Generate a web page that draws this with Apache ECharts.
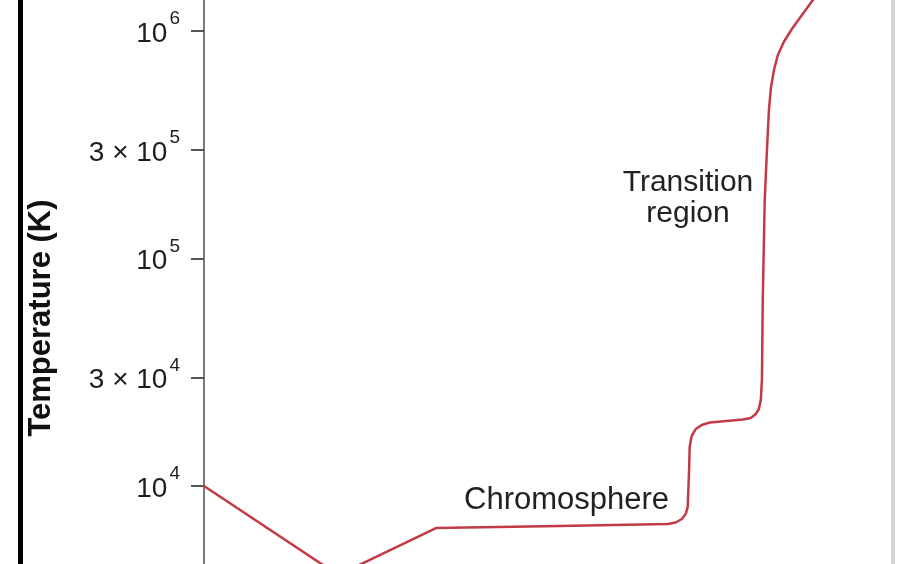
<!DOCTYPE html>
<html>
<head>
<meta charset="utf-8">
<script src="https://cdn.jsdelivr.net/npm/echarts@6/dist/echarts.min.js"></script>
<style>
html,body{margin:0;padding:0;background:#fff;}
#chart{width:919px;height:564px;}
</style>
</head>
<body>
<div id="chart"></div>
<script>
// Height above the photosphere (km, hidden axis) and temperature (K)
const heightKm = [0, 479, 830, 1269, 1656, 1684, 1706, 1720, 1727, 1732, 1734, 1741, 1756, 1777, 1806, 1924, 1952, 1970, 1981, 1988, 1992, 1995, 2002, 2010, 2017, 2024, 2035, 2049, 2070, 2099, 2135, 2174, 2220, 2270];
const temperatureK = [10000, 4060, 6540, 6670, 6810, 6910, 7160, 7530, 8090, 11760, 14840, 16590, 17810, 18540, 19020, 19600, 19900, 20730, 21800, 23880, 29240, 65700, 180700, 299900, 449600, 561700, 673900, 784600, 894700, 1020400, 1175800, 1368600, 1561000, 1745000];

// Y axis ticks and their labels
const tickValues = [10000, 30000, 100000, 300000, 1000000];
const tickLabels = ['{m|10}{s|4}', '{m|3 × 10}{s|4}', '{m|10}{s|5}', '{m|3 × 10}{s|5}', '{m|10}{s|6}'];

const annotations = ['Chromosphere', 'Transition\nregion'];
const axisTitle = 'Temperature (K)';

const FONT = '"Liberation Sans", Arial, Helvetica, sans-serif';
const chart = echarts.init(document.getElementById('chart'), null, {renderer: 'canvas'});

const seriesData = heightKm.map((h, i) => [h, temperatureK[i]]);

chart.setOption({
  animation: false,
  backgroundColor: '#ffffff',
  grid: {left: 204, right: 26, top: 0, bottom: -72, containLabel: false, outerBoundsMode: 'none'},
  xAxis: {type: 'value', min: 0, max: 2460, show: false},
  yAxis: [{
    type: 'log',
    logBase: 10,
    min: 2191,
    max: 1368800,
    name: axisTitle,
    nameLocation: 'middle',
    nameGap: 147,
    nameTextStyle: {fontFamily: FONT, fontSize: 31, fontWeight: 'bold', color: '#111'},
    axisLine: {show: true, lineStyle: {color: '#7a7a7a', width: 2}},
    axisTick: {show: true, length: 13, customValues: tickValues, lineStyle: {color: '#555', width: 2}},
    splitLine: {show: false},
    axisLabel: {
      customValues: tickValues,
      margin: 24,
      fontFamily: FONT,
      fontSize: 28,
      color: '#1e1e1e',
      formatter: function (v) {
        for (let i = 0; i < tickValues.length; i++) {
          if (Math.abs(v - tickValues[i]) / tickValues[i] < 1e-6) return tickLabels[i];
        }
        return '';
      },
      rich: {
        m: {fontFamily: FONT, fontSize: 28, color: '#1e1e1e', padding: [6, 0, 0, 0]},
        s: {fontFamily: FONT, fontSize: 19, color: '#1e1e1e', padding: [0, 0, 24, 2]}
      }
    }
  }, {
    type: 'log',
    logBase: 10,
    min: 2191,
    max: 1368800,
    position: 'right',
    axisLine: {show: true, lineStyle: {color: '#d4d4d4', width: 4}},
    axisTick: {show: false},
    axisLabel: {show: false},
    splitLine: {show: false}
  }],
  graphic: [
    {type: 'rect', left: 18, top: 0, shape: {width: 5, height: 564}, style: {fill: '#000'}},
    {type: 'text', x: 464, y: 500, style: {text: annotations[0], font: '31px ' + FONT, fill: '#222', align: 'left', verticalAlign: 'middle'}},
    {type: 'text', x: 688, y: 198, style: {text: annotations[1], font: '30px ' + FONT, fill: '#222', align: 'center', verticalAlign: 'middle', lineHeight: 31}}
  ],
  series: [{
    type: 'line',
    data: seriesData,
    showSymbol: false,
    smooth: false,
    lineStyle: {color: '#c23a44', width: 2.5, join: 'round', cap: 'round'},
    yAxisIndex: 0
  }]
});
</script>
</body>
</html>
